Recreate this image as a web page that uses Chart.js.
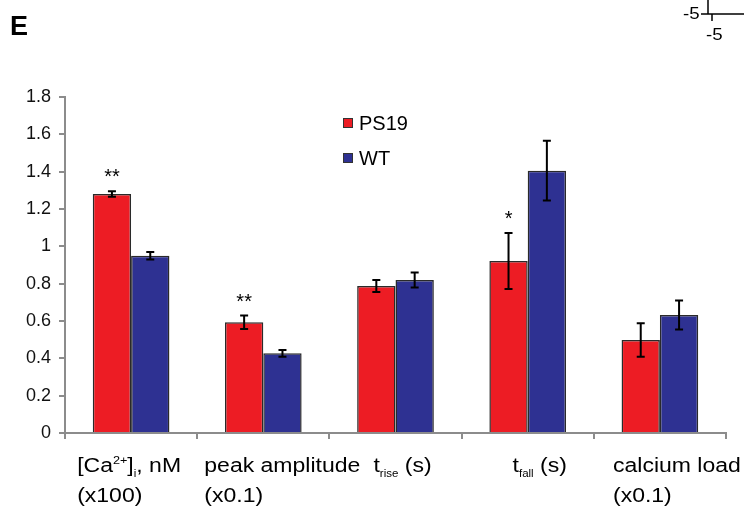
<!DOCTYPE html>
<html>
<head>
<meta charset="utf-8">
<script src="https://cdn.jsdelivr.net/npm/chart.js@4.4.0/dist/chart.umd.min.js"></script>
<style>
  html, body { margin: 0; padding: 0; background: #fff; }
</style>
</head>
<body>
<canvas id="chart" width="744" height="508"></canvas>
<script>
// --- data ---
const categories = ['Ca', 'peak', 'rise', 'fall', 'load'];
// each label: lines of [text, kind] segments, kind = 'n' | 'sup' | 'sub'
const categoryLabels = [
  [[['[Ca', 'n'], ['2+', 'sup'], [']', 'n'], ['i', 'sub'], [', nM', 'n']], [['(x100)', 'n']]],
  [[['peak amplitude', 'n']], [['(x0.1)', 'n']]],
  [[['t', 'n'], ['rise', 'sub'], [' (s)', 'n']]],
  [[['t', 'n'], ['fall', 'sub'], [' (s)', 'n']]],
  [[['calcium load', 'n']], [['(x0.1)', 'n']]]
];
const ps19Values = [1.28, 0.593, 0.787, 0.921, 0.498];
const ps19Errors = [0.015, 0.036, 0.032, 0.15, 0.09];
const wtValues = [0.95, 0.427, 0.82, 1.405, 0.632];
const wtErrors = [0.02, 0.018, 0.04, 0.16, 0.078];
const ps19Stars = ['**', '**', '', '*', ''];
const yMin = 0, yMax = 1.8, yStep = 0.2;

// layout tweaks (label nudges in px, not data)
const labelShift = [-2, 19, 7, 12, 17];
const TEXT_STRETCH = 1.15; // the original figure is slightly stretched sideways

const FONT = '"Liberation Sans", Arial, sans-serif';
const RED = '#ed1c24';
const BLUE = '#2e3192';
const AXIS = '#8c8c8c';

function stretchedText(ctx, text, x, y, sx) {
  ctx.save();
  ctx.translate(x, y);
  ctx.scale(sx, 1);
  ctx.fillText(text, 0, 0);
  ctx.restore();
}

const errorBars = {
  id: 'errorBars',
  afterDatasetsDraw(chart) {
    const { ctx } = chart;
    const yScale = chart.scales.y;
    const errs = [ps19Errors, wtErrors];
    ctx.save();
    ctx.strokeStyle = '#000';
    ctx.lineWidth = 2;
    chart.data.datasets.forEach((ds, d) => {
      chart.getDatasetMeta(d).data.forEach((bar, i) => {
        const v = ds.data[i], e = errs[d][i];
        const top = yScale.getPixelForValue(v + e);
        const bot = yScale.getPixelForValue(v - e);
        ctx.beginPath();
        ctx.moveTo(bar.x, top); ctx.lineTo(bar.x, bot);
        ctx.moveTo(bar.x - 4, top); ctx.lineTo(bar.x + 4, top);
        ctx.moveTo(bar.x - 4, bot); ctx.lineTo(bar.x + 4, bot);
        ctx.stroke();
        if (d === 0 && ps19Stars[i]) {
          ctx.fillStyle = '#000';
          ctx.font = `20px ${FONT}`;
          ctx.textAlign = 'center';
          ctx.textBaseline = 'alphabetic';
          ctx.fillText(ps19Stars[i], bar.x, top - 8);
        }
      });
    });
    ctx.restore();
  }
};

const decorations = {
  id: 'decorations',
  afterDraw(chart) {
    const { ctx, chartArea } = chart;
    const xScale = chart.scales.x;
    const sx = TEXT_STRETCH;
    ctx.save();
    ctx.fillStyle = '#000';

    // category labels with sub/superscripts
    const fonts = { n: `20px ${FONT}`, sup: `11px ${FONT}`, sub: `10px ${FONT}` };
    const shifts = { n: 0, sup: -8, sub: 5 };
    ctx.textBaseline = 'alphabetic';
    ctx.textAlign = 'left';
    categoryLabels.forEach((lines, i) => {
      const widths = lines.map(segs => segs.reduce((w, [t, k]) => {
        ctx.font = fonts[k];
        return w + ctx.measureText(t).width * sx;
      }, 0));
      const blockW = Math.max(...widths);
      const left = xScale.getPixelForValue(i) - blockW / 2 + labelShift[i];
      lines.forEach((segs, li) => {
        let x = left;
        const y = chartArea.bottom + 39 + li * 30;
        segs.forEach(([t, k]) => {
          ctx.font = fonts[k];
          stretchedText(ctx, t, x, y + shifts[k], sx);
          x += ctx.measureText(t).width * sx;
        });
      });
    });

    // legend
    const lx = chartArea.left + 278;
    [['PS19', RED, 118], ['WT', BLUE, 153]].forEach(([name, col, y]) => {
      ctx.fillStyle = col;
      ctx.fillRect(lx, y, 10, 10);
      ctx.strokeStyle = '#333';
      ctx.lineWidth = 1;
      ctx.strokeRect(lx + 0.5, y + 0.5, 9, 9);
      ctx.fillStyle = '#000';
      ctx.font = `20px ${FONT}`;
      ctx.textBaseline = 'middle';
      ctx.fillText(name, lx + 16, y + 6);
    });

    // panel letter
    ctx.font = `bold 27px ${FONT}`;
    ctx.textBaseline = 'alphabetic';
    ctx.fillText('E', 10, 35);

    // fragment of neighbouring panel (top right)
    ctx.strokeStyle = '#000';
    ctx.lineWidth = 1.5;
    ctx.beginPath();
    ctx.moveTo(708, 0); ctx.lineTo(708, 14);
    ctx.moveTo(701, 14); ctx.lineTo(744, 14);
    ctx.moveTo(712, 14); ctx.lineTo(712, 21);
    ctx.stroke();
    ctx.font = `17px ${FONT}`;
    ctx.textBaseline = 'middle';
    ctx.textAlign = 'left';
    stretchedText(ctx, '-5', 683, 14, 1.1);
    stretchedText(ctx, '-5', 706, 35, 1.1);
    ctx.restore();
  }
};

new Chart(document.getElementById('chart').getContext('2d'), {
  type: 'bar',
  data: {
    labels: categories,
    datasets: [
      {
        label: 'PS19',
        data: ps19Values,
        backgroundColor: RED,
        borderColor: '#2a2a2a',
        borderWidth: 1.5,
        categoryPercentage: 0.58,
        barPercentage: 1
      },
      {
        label: 'WT',
        data: wtValues,
        backgroundColor: BLUE,
        borderColor: '#2a2a2a',
        borderWidth: 1.5,
        categoryPercentage: 0.58,
        barPercentage: 1
      }
    ]
  },
  options: {
    responsive: false,
    animation: false,
    devicePixelRatio: 1,
    layout: { padding: { top: 97, right: 18, left: 0, bottom: 0 } },
    plugins: {
      legend: { display: false },
      tooltip: { enabled: false }
    },
    scales: {
      x: {
        grid: { display: true, drawOnChartArea: false, drawTicks: true, tickLength: 6, color: AXIS, lineWidth: 2 },
        border: { color: AXIS, width: 2 },
        ticks: { display: false },
        afterFit: (scale) => { scale.height = 75; }
      },
      y: {
        min: yMin,
        max: yMax,
        grid: { display: true, drawOnChartArea: false, drawTicks: true, tickLength: 6, color: AXIS, lineWidth: 2 },
        border: { color: AXIS, width: 2 },
        ticks: {
          stepSize: yStep,
          color: '#111',
          padding: 8,
          font: { family: FONT, size: 18 },
          callback: (v) => String(Number(v.toFixed(1)))
        },
        afterFit: (scale) => { scale.width = 65; }
      }
    }
  },
  plugins: [errorBars, decorations]
});
</script>
</body>
</html>
